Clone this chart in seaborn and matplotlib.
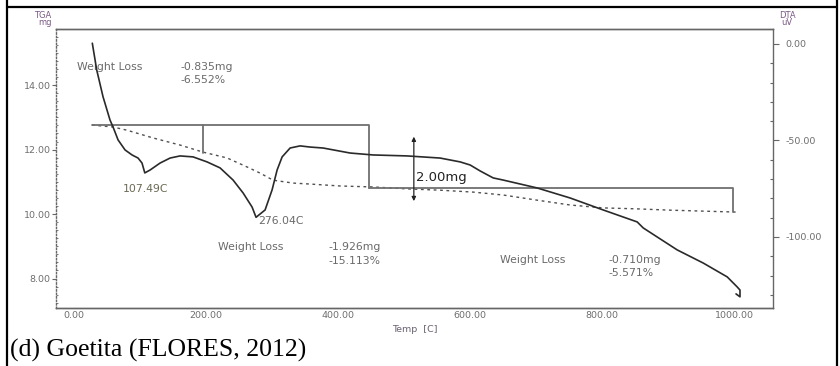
import matplotlib
matplotlib.use("Agg")
import matplotlib.pyplot as plt
import seaborn as sns
import pandas as pd
from matplotlib.lines import Line2D

# ---- data ----
dta_temp = [28.0, 34.7, 44.2, 54.8, 59.4, 67.0, 77.6, 88.2, 97.3, 103.3, 107.5, 115.5,
            130.6, 145.8, 160.9, 180.6, 201.8, 221.5, 241.2, 256.4, 270.0, 276.0, 289.7,
            300.3, 307.9, 315.5, 327.6, 342.7, 357.9, 377.6, 418.5, 453.3, 504.8, 554.8,
            585.2, 600.3, 615.5, 635.2, 650.3, 701.8, 751.8, 801.8, 853.3, 862.4, 883.6,
            913.9, 953.3, 989.7, 1004.8, 1009.0, 1009.0, 1003.0]
dta_uv = [0.4, -13.5, -27.3, -39.4, -43.0, -49.7, -54.9, -57.5, -59.1, -61.7, -66.8, -65.3,
          -61.7, -59.1, -58.0, -58.5, -61.1, -64.2, -70.5, -77.2, -84.5, -89.8, -86.0,
          -75.6, -65.3, -58.5, -53.9, -52.8, -53.4, -53.9, -56.5, -57.5, -58.0, -59.1,
          -61.1, -62.7, -65.8, -69.4, -70.5, -74.6, -79.8, -86.0, -92.2, -95.3, -100.0,
          -106.7, -113.5, -120.7, -125.9, -127.5, -131.0, -129.5]

tga_temp = [27.6, 59.4, 80.6, 120.0, 160.9, 195.8, 232.1, 262.4, 282.1, 301.8, 332.1, 357.9,
            403.3, 453.3, 504.8, 554.8, 605.0, 650.3, 701.8, 751.8, 801.8, 853.3, 903.3,
            953.3, 1004.8]
tga_mg = [12.76, 12.70, 12.60, 12.36, 12.14, 11.92, 11.74, 11.46, 11.27, 11.05, 10.96, 10.93,
          10.87, 10.84, 10.78, 10.74, 10.68, 10.59, 10.43, 10.28, 10.19, 10.16, 10.12,
          10.09, 10.06]

step_a_temp = [27.6, 447.0, 447.0]
step_a_mg = [12.76, 12.76, 10.81]
step_b_temp = [196.0, 196.0]
step_b_mg = [12.76, 11.89]
step_c_temp = [447.0, 998.5, 998.5]
step_c_mg = [10.81, 10.81, 10.06]

arrow_temp = 515.0
arrow_mg = [12.40, 10.40]

x_ticks = [0, 200, 400, 600, 800, 1000]
x_ticklabels = ["0.00", "200.00", "400.00", "600.00", "800.00", "1000.00"]
tga_ticks = [8, 10, 12, 14]
tga_ticklabels = ["8.00", "10.00", "12.00", "14.00"]
dta_ticks = [0, -50, -100]
dta_ticklabels = ["0.00", "-50.00", "-100.00"]

# ---- figure ----
sns.set_style("white")
plt.rcParams['font.family'] = ['DejaVu Sans']

W, H = 840, 366
fig = plt.figure(figsize=(W / 100, H / 100), dpi=100)
left, right, bottom, top = 56 / W, 773 / W, 1 - 308 / H, 1 - 29 / H
ax = fig.add_axes([left, bottom, right - left, top - bottom])
ax2 = ax.twinx()

axis_col = "#666666"
tick_col = "#6e6e6e"

df_dta = pd.DataFrame({"temp": dta_temp, "uv": dta_uv})
df_tga = pd.DataFrame({"temp": tga_temp, "mg": tga_mg})

sns.lineplot(data=df_tga, x="temp", y="mg", ax=ax, sort=False, estimator=None,
             color="#505050", linewidth=1.0, linestyle=(0, (2.0, 2.6)))
for sx, sy in [(step_a_temp, step_a_mg), (step_b_temp, step_b_mg), (step_c_temp, step_c_mg)]:
    sns.lineplot(x=sx, y=sy, ax=ax, sort=False, estimator=None, color="#707070",
                 linewidth=1.3)
ax.annotate("", xy=(arrow_temp, arrow_mg[0]), xytext=(arrow_temp, arrow_mg[1]),
            arrowprops=dict(arrowstyle="<|-|>", color="#222222", lw=0.9,
                            mutation_scale=6, shrinkA=0, shrinkB=0))

sns.lineplot(data=df_dta, x="temp", y="uv", ax=ax2, sort=False, estimator=None,
             color="#2a2a2a", linewidth=1.2)

ax.set_xlim(-27, 1059)
ax.set_ylim(7.085, 15.74)
ax2.set_ylim(-136.8, 7.77)

ax.set_xticks(x_ticks)
ax.set_xticklabels(x_ticklabels)
ax.set_xticks(range(-0, 1051, 50), minor=True)
ax.set_yticks(tga_ticks)
ax.set_yticklabels(tga_ticklabels)
ax.set_yticks([7.25 + 0.25 * i for i in range(34)], minor=True)
ax2.set_yticks(dta_ticks)
ax2.set_yticklabels(dta_ticklabels)
ax2.set_yticks(list(range(0, -131, -10)), minor=True)

for a in (ax, ax2):
    for s in a.spines.values():
        s.set_color(axis_col)
        s.set_linewidth(1.0)
ax.spines["left"].set_linestyle((0, (1, 1.5)))
ax2.spines["left"].set_visible(False)
ax.spines["right"].set_visible(False)

ax.tick_params(axis="x", which="major", direction="in", length=3, width=0.8,
               color=axis_col, labelsize=6.8, labelcolor=tick_col, pad=2)
ax.tick_params(axis="x", which="minor", direction="in", length=2, width=0.8, color=axis_col)
ax.tick_params(axis="y", which="major", direction="out", length=3, width=0.8,
               color=axis_col, labelsize=6.8, labelcolor=tick_col, pad=1)
ax.tick_params(axis="y", which="minor", direction="in", length=1.5, width=0.6, color=axis_col)
ax2.tick_params(axis="y", which="major", direction="out", length=4, width=0.8,
                color=axis_col, labelsize=6.8, labelcolor=tick_col, pad=5)
ax2.tick_params(axis="y", which="minor", direction="in", length=2.5, width=0.8, color=axis_col)

ax.set_xlabel("Temp  [C]", fontsize=6.8, color="#6a6070", labelpad=1)
ax.xaxis.set_label_coords(0.5, -0.06)
ax.set_ylabel("")
ax2.set_ylabel("")

# axis titles
lab_col = "#7a5a86"
fig.text(43 / W, 1 - 15 / H, "TGA", fontsize=6, color=lab_col, ha="center", va="center")
fig.text(45 / W, 1 - 22.5 / H, "mg", fontsize=6, color=lab_col, ha="center", va="center")
fig.text(787 / W, 1 - 15 / H, "DTA", fontsize=6, color=lab_col, ha="center", va="center")
fig.text(787 / W, 1 - 22.5 / H, "uV", fontsize=6, color=lab_col, ha="center", va="center")

# annotations (data coords, mg axis)
ann_col = "#6a6a6a"
fs = 7.8
ax.text(4.8, 14.56, "Weight Loss", fontsize=fs, color=ann_col, va="center")
ax.text(161, 14.56, "-0.835mg", fontsize=fs, color=ann_col, va="center")
ax.text(161, 14.16, "-6.552%", fontsize=fs, color=ann_col, va="center")
ax.text(74.5, 10.78, "107.49C", fontsize=fs, color="#6a6a55", va="center")
ax.text(279, 9.78, "276.04C", fontsize=fs, color=ann_col, va="center")
ax.text(218.5, 8.98, "Weight Loss", fontsize=fs, color=ann_col, va="center")
ax.text(385, 8.98, "-1.926mg", fontsize=fs, color=ann_col, va="center")
ax.text(385, 8.54, "-15.113%", fontsize=fs, color=ann_col, va="center")
ax.text(645.8, 8.57, "Weight Loss", fontsize=fs, color=ann_col, va="center")
ax.text(809.4, 8.57, "-0.710mg", fontsize=fs, color=ann_col, va="center")
ax.text(809.4, 8.17, "-5.571%", fontsize=fs, color=ann_col, va="center")
ax.text(518, 11.12, "2.00mg", fontsize=9.5, color="#222222", va="center")

# caption
fig.text(10 / W, 1 - 350 / H, "(d) Goetita (FLORES, 2012)", fontsize=18.5,
         family="Liberation Serif", color="black", ha="left", va="center")

# table cell borders
for (x0, y0, x1, y1) in [(7, 0, 7, H), (837, 0, 837, H), (7, 7, 837, 7)]:
    fig.add_artist(Line2D([x0 / W, x1 / W], [1 - y0 / H, 1 - y1 / H],
                          transform=fig.transFigure, color="black", linewidth=1.6))

fig.savefig("out.png", dpi=100)
